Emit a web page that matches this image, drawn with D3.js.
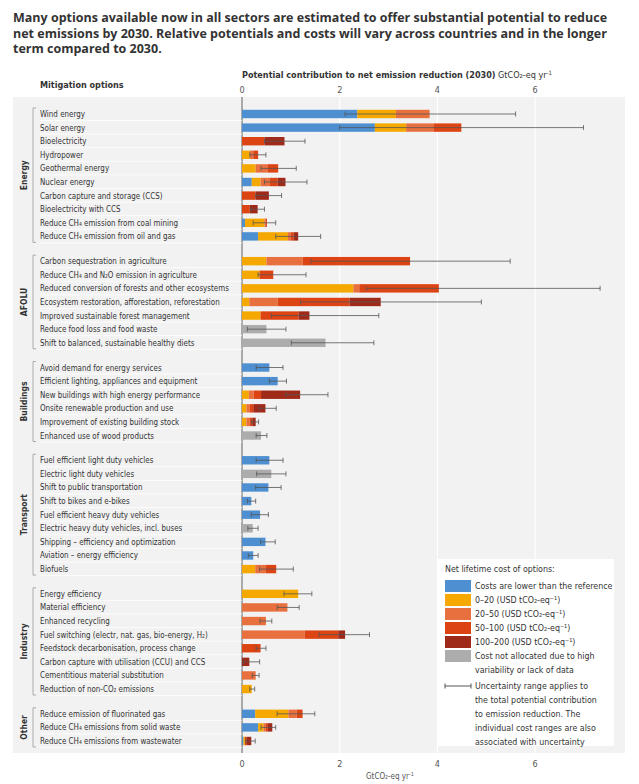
<!DOCTYPE html>
<html><head><meta charset="utf-8">
<script src="https://cdn.jsdelivr.net/npm/d3@7"></script>
<style>body{margin:0;background:#fff}text{font-family:"Liberation Sans Narrow","DejaVu Sans Condensed",sans-serif}</style>
</head><body><svg id="viz" width="639" height="784"></svg>
<script>
var sectors = ["Energy","AFOLU","Buildings","Transport","Industry","Other"];
var sectorCounts = [10,7,6,9,8,3];
var options = ["Wind energy","Solar energy","Bioelectricity","Hydropower","Geothermal energy","Nuclear energy","Carbon capture and storage (CCS)","Bioelectricity with CCS","Reduce CH₄ emission from coal mining","Reduce CH₄ emission from oil and gas",
 "Carbon sequestration in agriculture","Reduce CH₄ and N₂O emission in agriculture","Reduced conversion of forests and other ecosystems","Ecosystem restoration, afforestation, reforestation","Improved sustainable forest management","Reduce food loss and food waste","Shift to balanced, sustainable healthy diets",
 "Avoid demand for energy services","Efficient lighting, appliances and equipment","New buildings with high energy performance","Onsite renewable production and use","Improvement of existing building stock","Enhanced use of wood products",
 "Fuel efficient light duty vehicles","Electric light duty vehicles","Shift to public transportation","Shift to bikes and e-bikes","Fuel efficient heavy duty vehicles","Electric heavy duty vehicles, incl. buses","Shipping – efficiency and optimization","Aviation – energy efficiency","Biofuels",
 "Energy efficiency","Material efficiency","Enhanced recycling","Fuel switching (electr, nat. gas, bio-energy, H₂)","Feedstock decarbonisation, process change","Carbon capture with utilisation (CCU) and CCS","Cementitious material substitution","Reduction of non-CO₂ emissions",
 "Reduce emission of fluorinated gas","Reduce CH₄ emissions from solid waste","Reduce CH₄ emissions from wastewater"];
var costLower = [2.36,2.72,0,0,0,0.2,0,0,0.06,0.33, 0,0,0,0,0,0,0, 0.56,0.73,0,0,0,0, 0.56,0,0.54,0.19,0.37,0,0.48,0.23,0, 0,0,0,0,0,0,0,0, 0.27,0.33,0.03];
var cost0_20 = [0.79,0.64,0,0.16,0.28,0.18,0,0,0.40,0.61, 0.5,0.36,2.28,0.15,0.38,0,0, 0,0,0.14,0.09,0.09,0, 0,0,0,0,0,0,0,0,0.27, 1.15,0,0,0,0,0,0,0.2, 0.68,0.11,0.03];
var cost20_50 = [0.69,0.57,0,0.07,0.24,0.18,0,0,0.03,0.06, 0.74,0,0.12,0.58,0,0,0, 0,0,0.10,0.07,0.07,0, 0,0,0,0,0,0,0,0,0.22, 0,0.93,0.49,1.28,0,0,0.28,0, 0.17,0.05,0];
var cost50_100 = [0,0.56,0.46,0.10,0.22,0.17,0.28,0.16,0.02,0.06, 2.2,0.28,1.63,1.47,0.78,0,0, 0,0,0.15,0.07,0.05,0, 0,0,0,0,0,0,0,0,0.21, 0,0,0,0.69,0.38,0,0,0, 0.12,0.04,0.04];
var cost100_200 = [0,0,0.41,0,0,0.16,0.27,0.16,0,0.09, 0,0,0,0.64,0.22,0,0, 0,0,0.80,0.25,0.07,0, 0,0,0,0,0,0,0,0,0, 0,0,0,0.14,0,0.15,0,0, 0,0.09,0.09];
var notAllocated = [0,0,0,0,0,0,0,0,0,0, 0,0,0,0,0,0.5,1.71, 0,0,0,0,0,0.39, 0,0.6,0,0,0,0.22,0,0,0, 0,0,0,0,0,0,0,0, 0,0,0];
var errLow = [2.11,2.0,0.46,0.16,0.39,0.46,0.28,0.18,0.23,0.69, 1.41,0.33,2.54,1.2,0.6,0.11,1.01, 0.29,0.56,0.9,0.35,0.2,0.29, 0.29,0.3,0.28,0.11,0.19,0.12,0.38,0.13,0.36, 0.86,0.72,0.37,1.58,0.29,0.03,0.21,0.16, 0.72,0.39,0.08];
var errHigh = [5.6,6.99,1.29,0.49,1.11,1.33,0.81,0.46,0.69,1.61, 5.49,1.31,7.33,4.9,2.8,0.9,2.7, 0.84,0.91,1.76,0.7,0.34,0.51, 0.84,0.9,0.8,0.28,0.54,0.33,0.68,0.33,1.05, 1.43,1.17,0.61,2.61,0.49,0.36,0.35,0.26, 1.49,0.69,0.27];
var ticks = [0,2,4,6];
var costKeys = ["Costs are lower than the reference","0–20 (USD tCO₂-eq⁻¹)","20–50 (USD tCO₂-eq⁻¹)","50–100 (USD tCO₂-eq⁻¹)","100–200 (USD tCO₂-eq⁻¹)","Cost not allocated due to high|variability or lack of data"];
var colors = ["#4d8fd1","#f5a800","#e8703f","#dd4414","#a02a1a","#acacac"];

var svg = d3.select("#viz");
var x = d3.scaleLinear().domain([0,7.84]).range([242,625]);

// row slots with gaps between sectors
var rows = [], i = 0;
sectorCounts.forEach(function(n, g){ for (var k=0;k<n;k++){ rows.push({i:i, g:g, slot:i+g*0.82}); i++; } });
var y = d3.scaleLinear().domain([0, rows[rows.length-1].slot]).range([114, 741]);

// squeeze text horizontally (no condensed font available)
function squeeze(sel, f){ sel.each(function(){ var w=this.getComputedTextLength(); d3.select(this).attr("textLength",w*f).attr("lengthAdjust","spacingAndGlyphs"); }); }

// title
["Many options available now in all sectors are estimated to offer substantial potential to reduce",
 "net emissions by 2030. Relative potentials and costs will vary across countries and in the longer",
 "term compared to 2030."].forEach(function(t, k){
  svg.append("text").attr("x",13).attr("y",22+k*15.5).style("font-family","'Open Sans',sans-serif")
    .style("font-weight","bold").style("font-size","12.5px").attr("fill","#333").text(t);
});

svg.append("rect").attr("x",13).attr("y",97).attr("width",612).attr("height",656).attr("fill","#f2f2f2");
ticks.slice(1).forEach(function(t){
  svg.append("line").attr("x1",x(t)).attr("x2",x(t)).attr("y1",97).attr("y2",753).attr("stroke","#fff").attr("stroke-width",1.2);
});
svg.append("line").attr("x1",x(0)).attr("x2",x(0)).attr("y1",97).attr("y2",753).attr("stroke","#777").attr("stroke-width",1.2);

svg.append("text").attr("x",242).attr("y",78).style("font-size","9px").attr("fill","#333")
  .html('<tspan font-weight="bold">Potential contribution to net emission reduction (2030)</tspan> GtCO₂-eq yr<tspan dy="-3" font-size="6px">-1</tspan>');
svg.append("text").attr("x",40).attr("y",88).style("font-size","9px").style("font-weight","bold").attr("fill","#333").text("Mitigation options");
[93,767].forEach(function(yy){
  ticks.forEach(function(t){
    svg.append("text").attr("x",x(t)).attr("y",yy).attr("text-anchor","middle").style("font-size","9px").attr("fill","#555").text(t);
  });
});
svg.append("text").attr("x",390).attr("y",779).attr("text-anchor","middle").style("font-size","8px").attr("fill","#555")
  .html('GtCO₂-eq yr<tspan dy="-3" font-size="5.5px">-1</tspan>');

// labels
svg.selectAll("line.sep").data(rows).enter().append("line").attr("class","sep")
  .attr("x1",40).attr("x2",242).attr("y1",function(d){return y(d.slot)+6.5;}).attr("y2",function(d){return y(d.slot)+6.5;})
  .attr("stroke","#fff").attr("stroke-width",0.8);
svg.selectAll("text.lab").data(rows).enter().append("text").attr("class","lab")
  .attr("x",40).attr("y",function(d){return y(d.slot)+3;}).style("font-size","8.8px").attr("fill","#333")
  .text(function(d){return options[d.i];}).call(squeeze, 0.9);

// sector brackets
var start = 0;
sectorCounts.forEach(function(n, g){
  var y0 = y(rows[start].slot)-6, y1 = y(rows[start+n-1].slot)+6;
  svg.append("path").attr("d","M36,"+y0+"H33V"+y1+"H36").attr("fill","none").attr("stroke","#999").attr("stroke-width",0.8);
  svg.append("text").attr("transform","translate(27,"+((y0+y1)/2)+") rotate(-90)").attr("text-anchor","middle")
    .style("font-size","8.5px").style("font-weight","bold").attr("fill","#333").text(sectors[g]);
  start += n;
});

// stacked bars
var series = [costLower,cost0_20,cost20_50,cost50_100,cost100_200,notAllocated];
var table = rows.map(function(r){ var o={i:r.i, slot:r.slot}; series.forEach(function(s,k){o["k"+k]=s[r.i];}); return o; });
var stack = d3.stack().keys(series.map(function(s,k){return "k"+k;}))(table);
svg.selectAll("g.layer").data(stack).enter().append("g").attr("fill",function(d,k){return colors[k];})
  .selectAll("rect").data(function(d){return d;}).enter().append("rect")
  .attr("x",function(d){return x(d[0]);}).attr("width",function(d){return x(d[1])-x(d[0]);})
  .attr("y",function(d){return y(d.data.slot)-4.2;}).attr("height",8.4);

// error bars
var eb = svg.selectAll("g.err").data(rows).enter().append("g").attr("stroke","#555").attr("stroke-width",0.8);
eb.append("line").attr("x1",function(d){return x(errLow[d.i]);}).attr("x2",function(d){return x(errHigh[d.i]);})
  .attr("y1",function(d){return y(d.slot);}).attr("y2",function(d){return y(d.slot);});
[errLow, errHigh].forEach(function(arr){
  eb.append("line").attr("x1",function(d){return x(arr[d.i]);}).attr("x2",function(d){return x(arr[d.i]);})
    .attr("y1",function(d){return y(d.slot)-2.5;}).attr("y2",function(d){return y(d.slot)+2.5;});
});

// legend
var lg = svg.append("g");
lg.append("rect").attr("x",438).attr("y",559).attr("width",176).attr("height",187).attr("fill","#fff");
lg.append("text").attr("x",445).attr("y",572).style("font-size","8.8px").attr("fill","#333").text("Net lifetime cost of options:");
costKeys.forEach(function(c,k){
  var yy = 580+k*14;
  lg.append("rect").attr("x",445).attr("y",yy).attr("width",26).attr("height",12).attr("fill",colors[k]);
  c.split("|").forEach(function(t,j){
    lg.append("text").attr("x",475).attr("y",yy+9+j*14).style("font-size","8.8px").attr("fill","#333").text(t);
  });
});
lg.append("line").attr("x1",445).attr("x2",471).attr("y1",686).attr("y2",686).attr("stroke","#555");
[445,471].forEach(function(xx){ lg.append("line").attr("x1",xx).attr("x2",xx).attr("y1",683.5).attr("y2",688.5).attr("stroke","#555"); });
["Uncertainty range applies to","the total potential contribution","to emission reduction. The","individual cost ranges are also","associated with uncertainty"].forEach(function(t,j){
  lg.append("text").attr("x",475).attr("y",689+j*14).style("font-size","8.8px").attr("fill","#333").text(t);
});
</script></body></html>
